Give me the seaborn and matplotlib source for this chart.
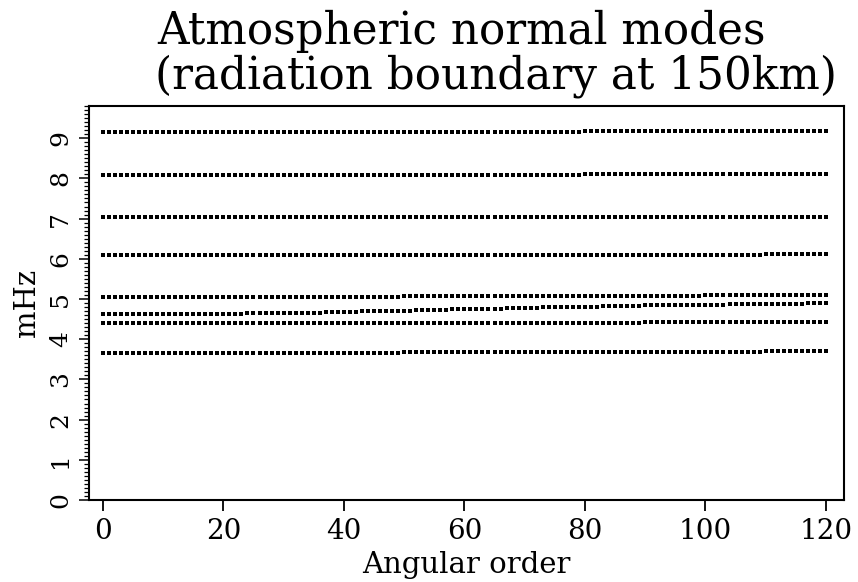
import numpy as np
import pandas as pd
import seaborn as sns
import matplotlib.pyplot as plt
from matplotlib.ticker import MultipleLocator

# angular order l = 0 .. 120, one mode per l on every branch
ANGULAR_ORDER = list(range(0, 121))

# frequencies (mHz) of each branch, l = 0..120
BRANCH_9 = [
    9.15, 9.15, 9.15, 9.15, 9.15, 9.15, 9.15, 9.15, 9.15, 9.15,
    9.15, 9.15, 9.15, 9.15, 9.15, 9.15, 9.15, 9.15, 9.15, 9.15,
    9.15, 9.15, 9.15, 9.15, 9.15, 9.15, 9.15, 9.15, 9.15, 9.15,
    9.15, 9.15, 9.15, 9.15, 9.15, 9.15, 9.15, 9.15, 9.15, 9.15,
    9.16, 9.16, 9.16, 9.16, 9.16, 9.16, 9.16, 9.16, 9.16, 9.16,
    9.16, 9.16, 9.16, 9.16, 9.16, 9.16, 9.16, 9.16, 9.16, 9.16,
    9.16, 9.16, 9.16, 9.16, 9.16, 9.16, 9.16, 9.16, 9.16, 9.16,
    9.16, 9.16, 9.16, 9.16, 9.16, 9.16, 9.16, 9.16, 9.16, 9.16,
    9.17, 9.17, 9.17, 9.17, 9.17, 9.17, 9.17, 9.17, 9.17, 9.17,
    9.17, 9.17, 9.17, 9.17, 9.17, 9.17, 9.17, 9.17, 9.17, 9.17,
    9.17, 9.17, 9.17, 9.17, 9.17, 9.17, 9.17, 9.17, 9.17, 9.17,
    9.18, 9.18, 9.18, 9.18, 9.18, 9.18, 9.18, 9.18, 9.18, 9.18,
    9.18]
BRANCH_8 = [
    8.08, 8.08, 8.08, 8.08, 8.08, 8.08, 8.08, 8.08, 8.08, 8.08,
    8.08, 8.08, 8.08, 8.08, 8.08, 8.08, 8.08, 8.08, 8.08, 8.08,
    8.08, 8.08, 8.08, 8.08, 8.08, 8.08, 8.08, 8.08, 8.08, 8.08,
    8.08, 8.08, 8.08, 8.08, 8.08, 8.08, 8.08, 8.08, 8.08, 8.08,
    8.08, 8.08, 8.08, 8.08, 8.08, 8.08, 8.08, 8.08, 8.08, 8.08,
    8.09, 8.09, 8.09, 8.09, 8.09, 8.09, 8.09, 8.09, 8.09, 8.09,
    8.09, 8.09, 8.09, 8.09, 8.09, 8.09, 8.09, 8.09, 8.09, 8.09,
    8.09, 8.09, 8.09, 8.09, 8.09, 8.09, 8.09, 8.09, 8.09, 8.09,
    8.10, 8.10, 8.10, 8.10, 8.10, 8.10, 8.10, 8.10, 8.10, 8.10,
    8.10, 8.10, 8.10, 8.10, 8.10, 8.10, 8.10, 8.10, 8.10, 8.10,
    8.11, 8.11, 8.11, 8.11, 8.11, 8.11, 8.11, 8.11, 8.11, 8.11,
    8.12, 8.12, 8.12, 8.12, 8.12, 8.12, 8.12, 8.12, 8.12, 8.12,
    8.12]
BRANCH_7 = [
    7.03, 7.03, 7.03, 7.03, 7.03, 7.03, 7.03, 7.03, 7.03, 7.03,
    7.03, 7.03, 7.03, 7.03, 7.03, 7.03, 7.03, 7.03, 7.03, 7.03,
    7.03, 7.03, 7.03, 7.03, 7.03, 7.03, 7.03, 7.03, 7.03, 7.03,
    7.03, 7.03, 7.03, 7.03, 7.03, 7.03, 7.03, 7.03, 7.03, 7.03,
    7.03, 7.03, 7.03, 7.03, 7.03, 7.03, 7.03, 7.03, 7.03, 7.03,
    7.03, 7.03, 7.03, 7.03, 7.03, 7.03, 7.03, 7.03, 7.03, 7.03,
    7.04, 7.04, 7.04, 7.04, 7.04, 7.04, 7.04, 7.04, 7.04, 7.04,
    7.04, 7.04, 7.04, 7.04, 7.04, 7.04, 7.04, 7.04, 7.04, 7.04,
    7.04, 7.04, 7.04, 7.04, 7.04, 7.04, 7.04, 7.04, 7.04, 7.04,
    7.04, 7.04, 7.04, 7.04, 7.04, 7.04, 7.04, 7.04, 7.04, 7.04,
    7.05, 7.05, 7.05, 7.05, 7.05, 7.05, 7.05, 7.05, 7.05, 7.05,
    7.05, 7.05, 7.05, 7.05, 7.05, 7.05, 7.05, 7.05, 7.05, 7.05,
    7.05]
BRANCH_6 = [
    6.09, 6.09, 6.09, 6.09, 6.09, 6.09, 6.09, 6.09, 6.09, 6.09,
    6.09, 6.09, 6.09, 6.09, 6.09, 6.09, 6.09, 6.09, 6.09, 6.09,
    6.09, 6.09, 6.09, 6.09, 6.09, 6.09, 6.09, 6.09, 6.09, 6.09,
    6.09, 6.09, 6.09, 6.09, 6.09, 6.09, 6.09, 6.09, 6.09, 6.09,
    6.09, 6.09, 6.09, 6.09, 6.09, 6.09, 6.09, 6.09, 6.09, 6.09,
    6.09, 6.09, 6.09, 6.09, 6.09, 6.09, 6.09, 6.09, 6.09, 6.09,
    6.09, 6.09, 6.09, 6.09, 6.09, 6.09, 6.09, 6.09, 6.09, 6.09,
    6.10, 6.10, 6.10, 6.10, 6.10, 6.10, 6.10, 6.10, 6.10, 6.10,
    6.10, 6.10, 6.10, 6.10, 6.10, 6.10, 6.10, 6.10, 6.10, 6.10,
    6.10, 6.10, 6.10, 6.10, 6.10, 6.10, 6.10, 6.10, 6.10, 6.10,
    6.10, 6.10, 6.10, 6.10, 6.10, 6.10, 6.10, 6.10, 6.10, 6.10,
    6.11, 6.11, 6.11, 6.11, 6.11, 6.11, 6.11, 6.11, 6.11, 6.11,
    6.11]
BRANCH_5 = [
    5.06, 5.06, 5.06, 5.06, 5.06, 5.06, 5.06, 5.06, 5.06, 5.06,
    5.06, 5.06, 5.06, 5.06, 5.06, 5.06, 5.06, 5.06, 5.06, 5.06,
    5.06, 5.06, 5.06, 5.06, 5.06, 5.06, 5.06, 5.06, 5.06, 5.06,
    5.06, 5.06, 5.06, 5.06, 5.06, 5.06, 5.06, 5.06, 5.06, 5.06,
    5.06, 5.06, 5.06, 5.06, 5.06, 5.06, 5.06, 5.06, 5.06, 5.06,
    5.07, 5.07, 5.07, 5.07, 5.07, 5.07, 5.07, 5.07, 5.07, 5.07,
    5.07, 5.07, 5.07, 5.07, 5.07, 5.07, 5.07, 5.07, 5.07, 5.07,
    5.07, 5.07, 5.07, 5.07, 5.07, 5.07, 5.07, 5.07, 5.07, 5.07,
    5.08, 5.08, 5.08, 5.08, 5.08, 5.08, 5.08, 5.08, 5.08, 5.08,
    5.08, 5.08, 5.08, 5.08, 5.08, 5.08, 5.08, 5.08, 5.08, 5.08,
    5.09, 5.09, 5.09, 5.09, 5.09, 5.09, 5.09, 5.09, 5.09, 5.09,
    5.10, 5.10, 5.10, 5.10, 5.10, 5.10, 5.10, 5.10, 5.10, 5.10,
    5.10]
BRANCH_4B = [
    4.62, 4.62, 4.62, 4.62, 4.62, 4.62, 4.62, 4.62, 4.62, 4.62,
    4.62, 4.62, 4.62, 4.62, 4.62, 4.62, 4.63, 4.63, 4.63, 4.63,
    4.63, 4.63, 4.63, 4.63, 4.64, 4.64, 4.64, 4.64, 4.64, 4.65,
    4.65, 4.65, 4.65, 4.66, 4.66, 4.66, 4.66, 4.67, 4.67, 4.67,
    4.68, 4.68, 4.68, 4.69, 4.69, 4.69, 4.70, 4.70, 4.70, 4.71,
    4.71, 4.71, 4.72, 4.72, 4.72, 4.73, 4.73, 4.73, 4.74, 4.74,
    4.74, 4.75, 4.75, 4.75, 4.76, 4.76, 4.76, 4.77, 4.77, 4.77,
    4.78, 4.78, 4.78, 4.79, 4.79, 4.79, 4.80, 4.80, 4.80, 4.81,
    4.81, 4.81, 4.81, 4.82, 4.82, 4.82, 4.83, 4.83, 4.83, 4.83,
    4.84, 4.84, 4.84, 4.84, 4.85, 4.85, 4.85, 4.85, 4.85, 4.86,
    4.86, 4.86, 4.86, 4.86, 4.87, 4.87, 4.87, 4.87, 4.87, 4.87,
    4.88, 4.88, 4.88, 4.88, 4.88, 4.88, 4.88, 4.89, 4.89, 4.89,
    4.89]
BRANCH_4A = [
    4.40, 4.40, 4.40, 4.40, 4.40, 4.40, 4.40, 4.40, 4.40, 4.40,
    4.40, 4.40, 4.40, 4.40, 4.40, 4.40, 4.40, 4.40, 4.40, 4.40,
    4.40, 4.40, 4.40, 4.40, 4.40, 4.40, 4.40, 4.40, 4.40, 4.40,
    4.40, 4.40, 4.40, 4.40, 4.40, 4.40, 4.40, 4.40, 4.40, 4.40,
    4.40, 4.40, 4.40, 4.40, 4.40, 4.40, 4.40, 4.40, 4.40, 4.40,
    4.40, 4.40, 4.40, 4.40, 4.40, 4.40, 4.40, 4.40, 4.40, 4.40,
    4.41, 4.41, 4.41, 4.41, 4.41, 4.41, 4.41, 4.41, 4.41, 4.41,
    4.41, 4.41, 4.41, 4.41, 4.41, 4.41, 4.41, 4.41, 4.41, 4.41,
    4.41, 4.41, 4.41, 4.41, 4.41, 4.41, 4.41, 4.41, 4.41, 4.41,
    4.42, 4.42, 4.42, 4.42, 4.42, 4.42, 4.42, 4.42, 4.42, 4.42,
    4.42, 4.42, 4.42, 4.42, 4.42, 4.42, 4.42, 4.42, 4.42, 4.42,
    4.43, 4.43, 4.43, 4.43, 4.43, 4.43, 4.43, 4.43, 4.43, 4.43,
    4.43]
BRANCH_3 = [
    3.66, 3.66, 3.66, 3.66, 3.66, 3.66, 3.66, 3.66, 3.66, 3.66,
    3.66, 3.66, 3.66, 3.66, 3.66, 3.66, 3.66, 3.66, 3.66, 3.66,
    3.66, 3.66, 3.66, 3.66, 3.66, 3.66, 3.66, 3.66, 3.66, 3.66,
    3.66, 3.66, 3.66, 3.66, 3.66, 3.66, 3.66, 3.66, 3.66, 3.66,
    3.66, 3.66, 3.66, 3.66, 3.66, 3.66, 3.66, 3.66, 3.66, 3.66,
    3.67, 3.67, 3.67, 3.67, 3.67, 3.67, 3.67, 3.67, 3.67, 3.67,
    3.67, 3.67, 3.67, 3.67, 3.67, 3.67, 3.67, 3.67, 3.67, 3.67,
    3.67, 3.67, 3.67, 3.67, 3.67, 3.67, 3.67, 3.67, 3.67, 3.67,
    3.68, 3.68, 3.68, 3.68, 3.68, 3.68, 3.68, 3.68, 3.68, 3.68,
    3.68, 3.68, 3.68, 3.68, 3.68, 3.68, 3.68, 3.68, 3.68, 3.68,
    3.69, 3.69, 3.69, 3.69, 3.69, 3.69, 3.69, 3.69, 3.69, 3.69,
    3.70, 3.70, 3.70, 3.70, 3.70, 3.70, 3.70, 3.70, 3.70, 3.70,
    3.70]

BRANCHES = [BRANCH_9, BRANCH_8, BRANCH_7, BRANCH_6,
            BRANCH_5, BRANCH_4B, BRANCH_4A, BRANCH_3]

X_TICKS = [0, 20, 40, 60, 80, 100, 120]
Y_TICKS = [0, 1, 2, 3, 4, 5, 6, 7, 8, 9]
TITLE_1 = "Atmospheric normal modes"
TITLE_2 = "(radiation boundary at 150km)"


def buildFrame():
    parts = []
    for i, freqs in enumerate(BRANCHES):
        parts.append(pd.DataFrame({"l": ANGULAR_ORDER, "mHz": freqs, "branch": i}))
    return pd.concat(parts, ignore_index=True)


def main():
    sns.set_theme(style="ticks")
    plt.rcParams['font.family'] = ['DejaVu Serif']
    plt.rcParams['text.color'] = 'black'
    plt.rcParams['axes.labelcolor'] = 'black'

    fig = plt.figure(figsize=(8.58, 5.82), dpi=100)
    ax = fig.add_axes([89/858, 1-500/582, (844-89)/858, (500-106)/582])

    df = buildFrame()
    sns.scatterplot(data=df, x="l", y="mHz", marker="s", s=5.5, color="black",
                    linewidth=0, legend=False, ax=ax)

    ax.set_xlim(-2.3, 123)
    ax.set_ylim(0, 9.8)
    ax.set_xticks(X_TICKS)
    ax.set_yticks(Y_TICKS)
    ax.yaxis.set_minor_locator(MultipleLocator(0.1))

    for sp in ax.spines.values():
        sp.set_color("black")
        sp.set_linewidth(1.5)
    ax.tick_params(axis="x", which="major", length=8, width=1.3, color="black",
                   labelsize=20, pad=5, labelcolor="black")
    ax.tick_params(axis="y", which="major", length=7, width=1.1, color="black",
                   labelsize=18, pad=5, labelrotation=90, labelcolor="black")
    ax.tick_params(axis="y", which="minor", length=3.5, width=0.9, color="black")
    for lab in ax.get_yticklabels():
        lab.set_verticalalignment("center")

    ax.set_xlabel("Angular order", fontsize=21, labelpad=4)
    ax.set_ylabel("mHz", fontsize=21, labelpad=6)

    fig.text(157/858, 1-44/582, TITLE_1, fontsize=31.5, ha="left", va="baseline")
    fig.text(155/858, 1-89/582, TITLE_2, fontsize=31.5, ha="left", va="baseline")

    fig.savefig("out.png", dpi=100, facecolor="white")


if __name__ == '__main__':
    main()
